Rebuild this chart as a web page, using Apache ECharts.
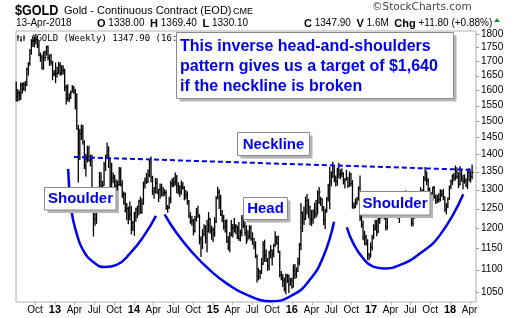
<!DOCTYPE html>
<html><head><meta charset="utf-8">
<script src="https://cdn.jsdelivr.net/npm/echarts@6/dist/echarts.min.js"></script>
<style>html,body{margin:0;padding:0;background:#fff}#c{width:520px;height:318px}</style>
</head><body><div id="c"></div>
<script>
// ---- data (weekly, Fridays from 2012-07-06) ----
const firstWeek = [2012, 6, 6];
const closes = [
 1579,1591,1584,1619,1605,1620,1617,1672,1692,1740,1772,1773,1775,1781,1758,1724,1712,1677,1731,1714,1752,1712,1702,1696,1657,1656,
 1656,1661,1687,1658,1667,1667,1609,1573,1573,1577,1592,1608,1595,1581,1476,1405,1462,1470,1436,1365,1386,1393,1383,1387,1292,1234,1223,1277,1294,1322,1310,1312,1371,1396,1395,1387,1308,1333,1338,1310,1272,1314,1352,1315,1287,1288,1244,1250,1230,1235,1203,1213,
 1238,1248,1254,1270,1240,1263,1319,1324,1321,1339,1379,1334,1294,1303,1318,1294,1300,1302,1288,1293,1292,1250,1252,1274,1316,1316,1320,1337,1310,1303,1294,1309,1306,1280,1287,1268,1231,1216,1218,1192,1222,1238,1231,1171,1177,1185,1201,1175,1191,1222,1195,1195,
 1186,1216,1277,1293,1279,1234,1227,1204,1213,1167,1152,1184,1199,1201,1204,1203,1179,1174,1189,1225,1205,1189,1168,1179,1201,1173,1163,1157,1131,1085,1095,1093,1113,1159,1134,1121,1108,1139,1145,1137,1156,1177,1162,1142,1088,1081,1076,1057,1085,1075,1065,1075,1061,
 1097,1090,1097,1116,1158,1239,1230,1222,1271,1259,1255,1221,1222,1243,1235,1231,1291,1294,1273,1252,1220,1244,1275,1298,1322,1340,1366,1328,1323,1357,1343,1343,1345,1323,1327,1334,1310,1342,1317,1257,1254,1267,1276,1304,1225,1208,1178,1177,1162,1137,1133,1152,
 1173,1197,1204,1191,1220,1234,1239,1258,1234,1203,1230,1249,1249,1254,1288,1289,1268,1228,1228,1255,1268,1280,1271,1255,1256,1242,1212,1228,1255,1274,1264,1290,1291,1297,1330,1351,1325,1301,1284,1277,1305,1280,1272,1270,1274,1296,1288,1281,1248,1257,1275,1309,
 1322,1338,1333,1350,1337,1315,1356,1330,1323,1324,1312,1349,1327,1336,1348
];
const highs = [
 1628,1603,1598,1625,1625,1626,1630,1676,1695,1742,1779,1788,1788,1798,1790,1772,1730,1722,1734,1737,1755,1755,1723,1725,1700,1668,
 1694,1679,1696,1695,1685,1684,1672,1617,1619,1589,1598,1616,1613,1604,1589,1487,1475,1488,1487,1440,1400,1424,1424,1397,1397,1285,1268,1297,1298,1348,1347,1323,1376,1397,1433,1422,1389,1374,1346,1339,1327,1324,1362,1361,1325,1294,1291,1263,1254,1267,1255,1217,
 1240,1251,1256,1272,1280,1275,1321,1332,1345,1355,1385,1392,1337,1306,1331,1330,1301,1316,1315,1306,1300,1297,1258,1280,1324,1330,1333,1346,1339,1319,1311,1324,1320,1309,1298,1294,1271,1239,1230,1222,1229,1250,1256,1234,1178,1196,1208,1206,1220,1240,1225,1205,
 1200,1226,1282,1307,1300,1285,1245,1232,1220,1221,1179,1189,1219,1209,1224,1209,1205,1214,1195,1232,1230,1215,1206,1193,1206,1205,1188,1175,1166,1135,1103,1098,1126,1166,1170,1147,1126,1143,1157,1146,1160,1191,1179,1180,1143,1096,1089,1081,1090,1089,1088,1080,1081,
 1111,1112,1104,1127,1162,1263,1241,1254,1280,1287,1274,1256,1245,1246,1264,1271,1297,1306,1280,1276,1255,1248,1279,1315,1362,1350,1377,1366,1338,1360,1374,1355,1358,1347,1331,1354,1333,1349,1345,1325,1265,1275,1279,1308,1338,1237,1218,1192,1182,1171,1137,1163,
 1182,1208,1220,1220,1226,1244,1245,1264,1264,1236,1233,1257,1262,1274,1292,1295,1288,1268,1239,1262,1271,1285,1297,1280,1261,1258,1245,1232,1257,1276,1278,1294,1306,1300,1336,1362,1349,1331,1305,1292,1307,1309,1286,1285,1289,1300,1298,1301,1281,1263,1278,1310,
 1327,1341,1345,1366,1361,1347,1365,1357,1340,1341,1330,1352,1358,1350,1369
];
const lows = [
 1565,1565,1567,1570,1590,1600,1599,1616,1652,1686,1726,1754,1752,1763,1750,1720,1700,1673,1672,1703,1722,1705,1685,1688,1636,1650,
 1626,1645,1657,1651,1653,1656,1599,1555,1566,1562,1573,1595,1590,1539,1476,1321,1385,1444,1430,1359,1338,1378,1380,1366,1270,1180,1207,1212,1268,1292,1284,1282,1312,1353,1393,1362,1306,1292,1319,1277,1251,1263,1312,1310,1280,1261,1241,1221,1211,1221,1185,1194,
 1182,1217,1226,1234,1238,1238,1261,1305,1317,1320,1336,1321,1287,1277,1291,1290,1268,1277,1283,1283,1285,1248,1240,1250,1265,1308,1309,1313,1292,1289,1282,1288,1301,1273,1276,1261,1227,1212,1207,1183,1190,1218,1227,1161,1131,1150,1180,1163,1142,1190,1187,1172,
 1167,1180,1214,1276,1250,1232,1216,1197,1190,1165,1147,1142,1180,1178,1190,1186,1174,1170,1168,1181,1201,1182,1162,1171,1174,1170,1160,1149,1128,1072,1077,1080,1091,1112,1119,1119,1098,1100,1127,1111,1130,1156,1160,1140,1084,1077,1062,1052,1046,1071,1049,1066,1058,
 1061,1080,1082,1096,1111,1147,1191,1209,1222,1236,1226,1208,1206,1212,1225,1228,1236,1263,1258,1244,1208,1199,1240,1270,1250,1310,1334,1322,1310,1312,1333,1330,1336,1316,1305,1327,1306,1310,1310,1251,1250,1253,1261,1272,1219,1202,1171,1159,1158,1124,1123,1129,
 1146,1175,1195,1181,1188,1212,1225,1232,1223,1195,1197,1228,1240,1245,1253,1276,1262,1225,1214,1228,1245,1257,1264,1250,1242,1238,1205,1206,1225,1250,1256,1259,1275,1284,1292,1325,1314,1294,1277,1260,1271,1277,1263,1265,1267,1270,1282,1273,1243,1236,1252,1275,
 1303,1314,1325,1327,1331,1306,1313,1323,1303,1318,1308,1303,1325,1321,1330
];
// pattern annotations [date, price]
const neckline = [['2013-03-30',1392],['2018-04-16',1355]];
const leftShoulderArc = [['2013-03-03',1358],['2013-03-18',1246],['2013-04-11',1187],['2013-05-11',1146],['2013-06-27',1118],['2013-08-20',1106],['2013-10-13',1111],['2013-12-14',1138],['2014-02-13',1178],['2014-04-13',1231]];
const headArc = [['2014-05-23',1235],['2014-07-18',1187],['2014-10-02',1138],['2014-12-18',1099],['2015-03-05',1069],['2015-06-05',1044],['2015-09-29',1030],['2016-01-07',1044],['2016-03-24',1077],['2016-05-25',1130],['2016-07-14',1216]];
const rightShoulderArc = [['2016-09-11',1202],['2016-10-11',1162],['2016-11-26',1126],['2017-01-11',1107],['2017-02-27',1103],['2017-05-15',1111],['2017-08-15',1138],['2017-11-16',1183],['2018-03-03',1288]];
// axis ticks
const yTicks = [1050,1100,1150,1200,1250,1300,1350,1400,1450,1500,1550,1600,1650,1700,1750,1800];
const xTickDates = ['2012-10-01','2013-01-01','2013-04-01','2013-07-01','2013-10-01','2014-01-01','2014-04-01','2014-07-01','2014-10-01','2015-01-01','2015-04-01','2015-07-01','2015-10-01','2016-01-01','2016-04-01','2016-07-01','2016-10-01','2017-01-01','2017-04-01','2017-07-01','2017-10-01','2018-01-01','2018-04-01'];
const xTickLabels = ['Oct','13','Apr','Jul','Oct','14','Apr','Jul','Oct','15','Apr','Jul','Oct','16','Apr','Jul','Oct','17','Apr','Jul','Oct','18','Apr'];

const X_MIN = '2012-07-05', X_MAX = '2018-05-01', Y_MIN = 1028.2, Y_MAX = 1811.3;
const FONT = '"Liberation Sans", Arial, sans-serif';
const BLUE = '#0000f0';

const n = Math.min(closes.length, highs.length, lows.length);
const t0 = new Date(firstWeek[0], firstWeek[1], firstWeek[2]).getTime();
const barData = [];
for (let i = 0; i < n; i++) barData.push([t0 + i * 7 * 86400000, lows[i], highs[i], closes[i]]);

const chart = echarts.init(document.getElementById('c'), null, {renderer: 'canvas'});

function box(x, y, w, h, lines, font, cx, cys, align) {
  const els = [
    {type:'rect', z:100, shape:{x:x+3, y:y+3, width:w, height:h}, style:{fill:'#b4b4b4'}},
    {type:'rect', z:101, shape:{x:x, y:y, width:w, height:h}, style:{fill:'#fff', stroke:'#8a8a8a', lineWidth:1}}
  ];
  lines.forEach((t, i) => els.push({type:'text', z:102, x:cx, y:cys[i],
    style:{text:t, font:font, fill:BLUE, align:align, verticalAlign:'middle'}}));
  return els;
}

const graphics = [].concat(
  [
    {type:'text', z:100, x:15, y:11, scaleX:0.9, style:{text:'$GOLD', font:'bold 14px '+FONT, fill:'#000', verticalAlign:'middle'}},
    {type:'text', z:100, x:64, y:11, style:{text:'Gold - Continuous Contract (EOD)', font:'11px '+FONT, fill:'#000', verticalAlign:'middle'}},
    {type:'text', z:100, x:233, y:11.5, style:{text:'CME', font:'9px '+FONT, fill:'#000', verticalAlign:'middle'}},
    {type:'text', z:100, x:372, y:7, style:{text:'\u00A9StockCharts.com', font:'10.5px "DejaVu Sans", sans-serif', fill:'#444', verticalAlign:'middle'}},
    {type:'text', z:100, x:16, y:23.5, style:{text:'13-Apr-2018', font:'10px '+FONT, fill:'#000', verticalAlign:'middle'}},
    {type:'text', z:100, x:97, y:23.5, style:{text:'{b|O} 1338.00  {b|H} 1369.40  {b|L} 1330.10', font:'10px '+FONT, fill:'#000', verticalAlign:'middle',
      rich:{b:{font:'bold 11px '+FONT, fill:'#000'}}}},
    {type:'text', z:100, x:304, y:23.5, style:{text:'{b|C} 1347.90  {b|V} 1.6M  {b|Chg} +11.80 (+0.88%)', font:'10px '+FONT, fill:'#000', verticalAlign:'middle',
      rich:{b:{font:'bold 11px '+FONT, fill:'#000'}}}},
    {type:'polygon', z:100, shape:{points:[[494,22],[500,22],[497,18]]}, style:{fill:'#1f8f2f'}},
    // legend icon
    {type:'polyline', z:100, shape:{points:[[18,35],[18,41]]}, style:{stroke:'#000', lineWidth:1}},
    {type:'polyline', z:100, shape:{points:[[17,37],[19,37]]}, style:{stroke:'#000', lineWidth:1}},
    {type:'polyline', z:100, shape:{points:[[21,36],[21,42]]}, style:{stroke:'#000', lineWidth:1}},
    {type:'polyline', z:100, shape:{points:[[20,40],[22,40]]}, style:{stroke:'#000', lineWidth:1}},
    {type:'polyline', z:100, shape:{points:[[24,35],[24,41]]}, style:{stroke:'#000', lineWidth:1}},
    {type:'polyline', z:100, shape:{points:[[23,38],[25,38]]}, style:{stroke:'#000', lineWidth:1}},
    {type:'text', z:100, x:31, y:38.5, style:{text:'$GOLD (Weekly) 1347.90 (16:00 ET)', font:'9px "DejaVu Sans Mono", monospace', fill:'#000', verticalAlign:'middle'}}
  ],
  box(176.5, 32.5, 277, 66, ['This inverse head-and-shoulders','pattern gives us a target of $1,640','if the neckline is broken'], 'bold 16px '+FONT, 180, [47, 67, 87], 'left'),
  box(237.5, 132.5, 72, 23, ['Neckline'], 'bold 15px '+FONT, 273.5, [144.5], 'center'),
  box(243.5, 197.5, 44, 22, ['Head'], 'bold 15px '+FONT, 265.5, [209], 'center'),
  box(44.5, 187.5, 71.5, 22.5, ['Shoulder'], 'bold 15px '+FONT, 80.5, [199], 'center'),
  box(359.5, 191.5, 70.5, 23.5, ['Shoulder'], 'bold 15px '+FONT, 395, [203.5], 'center')
);

function arcSeries(data) {
  return {type:'line', data:data, smooth:0.5, showSymbol:false, silent:true, z:5,
    lineStyle:{color:BLUE, width:2.5}};
}

const option = {
  animation: false,
  backgroundColor: '#fff',
  grid: {left:16, right:44, top:31, bottom:16, show:true, borderColor:'#b0b0b0', borderWidth:1, backgroundColor:'#fff'},
  xAxis: {type:'time', min:X_MIN, max:X_MAX, axisLabel:{show:false}, axisTick:{show:false}, axisLine:{show:false}, splitLine:{show:false}},
  yAxis: {type:'log', logBase:10, min:Y_MIN, max:Y_MAX, position:'right', axisLabel:{show:false}, axisTick:{show:false}, axisLine:{show:false}, splitLine:{show:false}},
  series: [
    {
      type:'custom', name:'$GOLD', data:barData, encode:{x:0, y:[1,2,3]}, z:3, silent:true,
      renderItem(params, api) {
        const t = api.value(0);
        const lo = api.coord([t, api.value(1)]);
        const hi = api.coord([t, api.value(2)]);
        const cl = api.coord([t, api.value(3)]);
        const x = lo[0];
        return {type:'group', children:[
          {type:'line', shape:{x1:x, y1:hi[1]-0.5, x2:x, y2:lo[1]+0.5}, style:{stroke:'#000', lineWidth:1.3}},
          {type:'line', shape:{x1:x, y1:cl[1], x2:x+1.6, y2:cl[1]}, style:{stroke:'#000', lineWidth:1}}
        ]};
      }
    },
    {type:'line', data:neckline, showSymbol:false, silent:true, z:6, lineStyle:{color:BLUE, width:2, type:[5,3]}},
    arcSeries(leftShoulderArc),
    arcSeries(headArc),
    arcSeries(rightShoulderArc),
    {
      type:'custom', name:'yTicks', data:yTicks.map(v => [X_MAX, v]), clip:false, silent:true, z:10,
      renderItem(params, api) {
        const c = api.coord([api.value(0), api.value(1)]);
        return {type:'group', children:[
          {type:'line', shape:{x1:c[0], y1:Math.round(c[1])+0.5, x2:c[0]+3, y2:Math.round(c[1])+0.5}, style:{stroke:'#999', lineWidth:1}},
          {type:'text', x:c[0]+5, y:c[1], style:{text:String(yTicks[params.dataIndex]), font:'10px '+FONT, fill:'#000', verticalAlign:'middle'}}
        ]};
      }
    },
    {
      type:'custom', name:'xTicks', data:xTickDates.map(d => [d, Y_MIN]), clip:false, silent:true, z:10,
      renderItem(params, api) {
        const c = api.coord([api.value(0), api.value(1)]);
        const lab = xTickLabels[params.dataIndex];
        const bold = /^\d+$/.test(lab);
        return {type:'group', children:[
          {type:'line', shape:{x1:Math.round(c[0])+0.5, y1:c[1], x2:Math.round(c[0])+0.5, y2:c[1]+3}, style:{stroke:'#b0b0b0', lineWidth:1}},
          {type:'text', x:c[0], y:c[1]+8, style:{text:lab, font:(bold?'bold 11px ':'10px ')+FONT, fill:'#000', align:'center', verticalAlign:'middle'}}
        ]};
      }
    }
  ],
  graphic: graphics
};
chart.setOption(option);
</script>
</body></html>
